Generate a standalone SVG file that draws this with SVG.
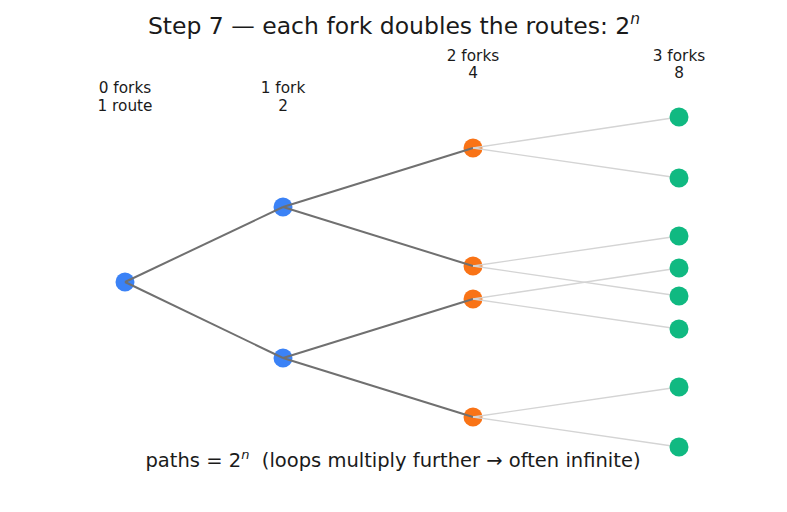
<svg xmlns="http://www.w3.org/2000/svg" width="787" height="512" viewBox="0 0 787 512">
<style>
text{font-family:"DejaVu Sans","Liberation Sans",sans-serif;fill:#1a1a1a;text-anchor:middle;white-space:pre}
.t{font-size:23.5px}
.l{font-size:15.3px}
.b{font-size:19.5px}
.dark{stroke:#707070;stroke-width:2;fill:none}
.light{stroke:#d4d4d4;stroke-width:1.3;fill:none}
.n0{fill:#3b82f6}
.n2{fill:#f97316}
.n3{fill:#10b981}
</style>
<rect width="787" height="512" fill="#fff"/>
<text class="t" x="394" y="34">Step 7 — each fork doubles the routes: 2<tspan font-size="15.5" font-style="italic" dy="-10">n</tspan></text>
<g id="labels">
<text class="l" x="125" y="93">0 forks</text><text class="l" x="125" y="111">1 route</text>
<text class="l" x="283" y="93">1 fork</text><text class="l" x="283" y="111">2</text>
<text class="l" x="473" y="61">2 forks</text><text class="l" x="473" y="77.5">4</text>
<text class="l" x="679" y="61">3 forks</text><text class="l" x="679" y="77.5">8</text>
</g>
<g id="n0"><circle class="n0" cx="125" cy="282" r="9.5"/></g>
<g id="n1a"><circle class="n0" cx="283" cy="207" r="9.5"/></g>
<g id="n1b"><circle class="n0" cx="283" cy="358" r="9.5"/></g>
<g id="n2a"><circle class="n2" cx="473" cy="148" r="9.5"/></g>
<g id="n2b"><circle class="n2" cx="473" cy="266" r="9.5"/></g>
<g id="n2c"><circle class="n2" cx="473" cy="299" r="9.5"/></g>
<g id="n2d"><circle class="n2" cx="473" cy="417" r="9.5"/></g>
<g id="connectors">
<line class="dark" x1="125" y1="282" x2="283" y2="207"/>
<line class="dark" x1="125" y1="282" x2="283" y2="358"/>
<line class="dark" x1="283" y1="207" x2="473" y2="148"/>
<line class="dark" x1="283" y1="207" x2="473" y2="266"/>
<line class="dark" x1="283" y1="358" x2="473" y2="299"/>
<line class="dark" x1="283" y1="358" x2="473" y2="417"/>
<line class="light" x1="473" y1="148" x2="679" y2="117"/>
<line class="light" x1="473" y1="148" x2="679" y2="178"/>
<line class="light" x1="473" y1="266" x2="679" y2="236"/>
<line class="light" x1="473" y1="266" x2="679" y2="296"/>
<line class="light" x1="473" y1="299" x2="679" y2="268"/>
<line class="light" x1="473" y1="299" x2="679" y2="329"/>
<line class="light" x1="473" y1="417" x2="679" y2="387"/>
<line class="light" x1="473" y1="417" x2="679" y2="447"/>
</g>
<g id="n3a"><circle class="n3" cx="679" cy="117" r="9.5"/></g>
<g id="n3b"><circle class="n3" cx="679" cy="178" r="9.5"/></g>
<g id="n3c"><circle class="n3" cx="679" cy="236" r="9.5"/></g>
<g id="n3d"><circle class="n3" cx="679" cy="268" r="9.5"/></g>
<g id="n3e"><circle class="n3" cx="679" cy="296" r="9.5"/></g>
<g id="n3f"><circle class="n3" cx="679" cy="329" r="9.5"/></g>
<g id="n3g"><circle class="n3" cx="679" cy="387" r="9.5"/></g>
<g id="n3h"><circle class="n3" cx="679" cy="447" r="9.5"/></g>
<text class="b" x="393" y="467">paths = 2<tspan font-size="13" font-style="italic" dy="-8">n</tspan><tspan dy="8">  (loops multiply further → often infinite)</tspan></text>
</svg>
